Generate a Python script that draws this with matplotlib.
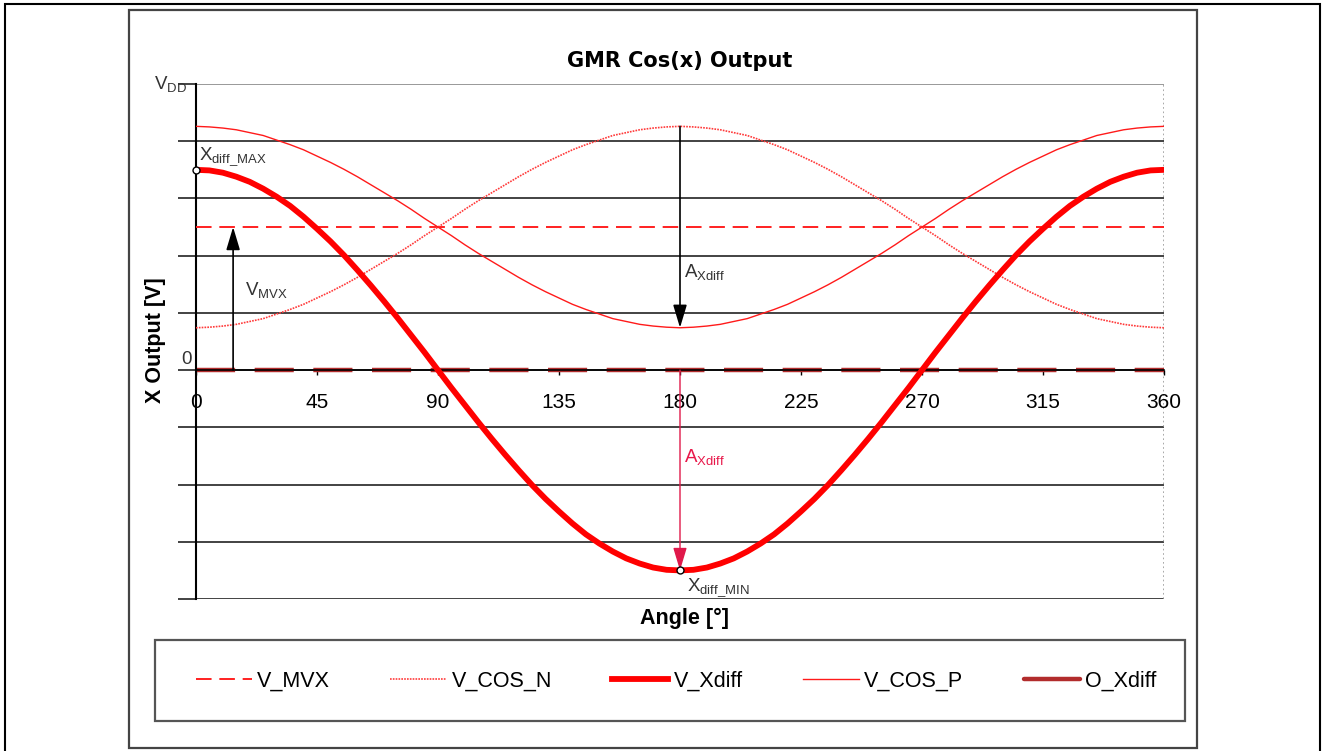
import matplotlib
matplotlib.use("Agg")
import matplotlib.pyplot as plt
from matplotlib.patches import Rectangle
from matplotlib.lines import Line2D

plt.rcParams['font.family'] = ['Liberation Sans', 'DejaVu Sans']
plt.rcParams['mathtext.default'] = 'regular'

W, H = 1323, 751

# angle in degrees (5 degree steps), values in grid units (0 = ground, 5 = VDD)
angle = list(range(0, 361, 5))
v_xdiff = [3.50, 3.49, 3.45, 3.38, 3.29, 3.17, 3.03, 2.87, 2.68, 2.47, 2.25, 2.01, 1.75,
           1.48, 1.20, 0.91, 0.61, 0.31, 0.00, -0.31, -0.61, -0.91, -1.20, -1.48, -1.75,
           -2.01, -2.25, -2.47, -2.68, -2.87, -3.03, -3.17, -3.29, -3.38, -3.45, -3.49,
           -3.50, -3.49, -3.45, -3.38, -3.29, -3.17, -3.03, -2.87, -2.68, -2.47, -2.25,
           -2.01, -1.75, -1.48, -1.20, -0.91, -0.61, -0.31, 0.00, 0.31, 0.61, 0.91, 1.20,
           1.48, 1.75, 2.01, 2.25, 2.47, 2.68, 2.87, 3.03, 3.17, 3.29, 3.38, 3.45, 3.49, 3.50]
v_cos_p = [4.26, 4.25, 4.23, 4.20, 4.15, 4.10, 4.02, 3.94, 3.85, 3.74, 3.63, 3.51, 3.38,
           3.24, 3.10, 2.96, 2.81, 2.65, 2.50, 2.35, 2.19, 2.04, 1.90, 1.76, 1.62, 1.49,
           1.37, 1.26, 1.15, 1.06, 0.98, 0.90, 0.85, 0.80, 0.77, 0.75, 0.74, 0.75, 0.77,
           0.80, 0.85, 0.90, 0.98, 1.06, 1.15, 1.26, 1.37, 1.49, 1.62, 1.76, 1.90, 2.04,
           2.19, 2.35, 2.50, 2.65, 2.81, 2.96, 3.10, 3.24, 3.38, 3.51, 3.63, 3.74, 3.85,
           3.94, 4.02, 4.10, 4.15, 4.20, 4.23, 4.25, 4.26]
v_cos_n = [0.74, 0.75, 0.77, 0.80, 0.85, 0.90, 0.98, 1.06, 1.15, 1.26, 1.37, 1.49, 1.62,
           1.76, 1.90, 2.04, 2.19, 2.35, 2.50, 2.65, 2.81, 2.96, 3.10, 3.24, 3.38, 3.51,
           3.63, 3.74, 3.85, 3.94, 4.02, 4.10, 4.15, 4.20, 4.23, 4.25, 4.26, 4.25, 4.23,
           4.20, 4.15, 4.10, 4.02, 3.94, 3.85, 3.74, 3.63, 3.51, 3.38, 3.24, 3.10, 2.96,
           2.81, 2.65, 2.50, 2.35, 2.19, 2.04, 1.90, 1.76, 1.62, 1.49, 1.37, 1.26, 1.15,
           1.06, 0.98, 0.90, 0.85, 0.80, 0.77, 0.75, 0.74]
v_mvx = 2.5
o_xdiff = 0.0
vdd = 5
y_min = -4
x_ticks = [0, 45, 90, 135, 180, 225, 270, 315, 360]
mvx_arrow_x = 13.8

fig = plt.figure(figsize=(W / 100, H / 100), dpi=100)
ax = fig.add_axes([196 / W, 1 - 599 / H, (1164 - 196) / W, (599 - 84) / H])
ax.set_xlim(0, 360)
ax.set_ylim(y_min, vdd)

# horizontal grid
for g in range(y_min, vdd + 1):
    ax.axhline(g, color='#888888' if g == vdd else '#222222', lw=1.2, zorder=1)
ax.axvline(360, color='#999999', lw=1.2, ls=':', zorder=1)

ax.spines['top'].set_visible(False)
ax.spines['right'].set_visible(False)
ax.spines['left'].set_linewidth(1.5)
ax.spines['bottom'].set_position(('data', 0))
ax.spines['bottom'].set_linewidth(1.2)

ax.set_yticks(range(y_min, vdd + 1))
ax.set_yticklabels([])
ax.tick_params(axis='y', direction='out', length=13, width=1.2, color='#222222')
ax.set_xticks(x_ticks)
ax.set_xticklabels([str(t) for t in x_ticks], fontsize=15)
ax.tick_params(axis='x', direction='out', length=3.5, width=1, pad=13)

# series
l_oxd, = ax.plot(angle, [o_xdiff] * len(angle), color='#b22c2c', lw=3.2,
                 dashes=(8.8, 4.4), zorder=2, label='O_Xdiff')
l_mvx = ax.axhline(v_mvx, color='#ff2020', lw=1.4, dashes=(8, 4), zorder=3, label='V_MVX')
l_cn, = ax.plot(angle, v_cos_n, color='#ff3a3a', lw=1.2, ls=(0, (1, 0.7)), zorder=3, label='V_COS_N')
l_cp, = ax.plot(angle, v_cos_p, color='#ff1a1a', lw=1.0, zorder=3, label='V_COS_P')
l_xd, = ax.plot(angle, v_xdiff, color='#ff0000', lw=4.2, zorder=4, label='V_Xdiff',
                solid_joinstyle='round')

# arrows
ax.annotate('', xy=(mvx_arrow_x, v_mvx), xytext=(mvx_arrow_x, 0),
            arrowprops=dict(arrowstyle='-|>,head_length=1.0,head_width=0.3', color='black',
                            lw=1.2, shrinkA=0, shrinkB=0, mutation_scale=14), zorder=5)
ax.annotate('', xy=(180, min(v_cos_p)), xytext=(180, max(v_cos_n)),
            arrowprops=dict(arrowstyle='-|>,head_length=1.0,head_width=0.3', color='black',
                            lw=1.2, shrinkA=0, shrinkB=0, mutation_scale=14), zorder=5)
ax.annotate('', xy=(180, min(v_xdiff)), xytext=(180, 0),
            arrowprops=dict(arrowstyle='-|>,head_length=1.0,head_width=0.3', color='#e0184a',
                            lw=1.0, shrinkA=0, shrinkB=0, mutation_scale=14), zorder=5)

ax.plot([0, 180], [max(v_xdiff), min(v_xdiff)], ls='none', marker='o', ms=5,
        mfc='white', mec='black', mew=1, zorder=6, clip_on=False)

lab = dict(fontsize=13.5, color='#333333')
ax.text(18.2, 1.4, 'V$_{MVX}$', va='center', ha='left', **lab)
ax.text(181.5, 1.71, 'A$_{Xdiff}$', va='center', ha='left', **lab)
ax.text(181.5, -1.52, 'A$_{Xdiff}$', va='center', ha='left', fontsize=13.5, color='#e8184a')
ax.text(1.0, 3.72, r'X$_{diff\_MAX}$', va='center', ha='left', **lab)
ax.text(182.5, -3.8, r'X$_{diff\_MIN}$', va='center', ha='left', **lab)
ax.text(-3.2, vdd, 'V$_{DD}$', va='center', ha='right', **lab)
ax.text(-1.5, 0.18, '0', va='center', ha='right', **lab)

ax.set_title('GMR Cos(x) Output', fontsize=15, fontweight='bold', family='DejaVu Sans', pad=12)
fig.text(155 / W, 1 - 340 / H, 'X Output [V]', rotation=90, ha='center', va='center',
         fontsize=15.5, fontweight='bold')
fig.text(685 / W, 1 - 618 / H, 'Angle [°]', ha='center', va='center',
         fontsize=15.5, fontweight='bold')

# legend
handles = [l_mvx, l_cn, l_xd, l_cp,
           Line2D([], [], color='#b22c2c', lw=3.2, solid_capstyle='round')]
fig.legend(handles, ['V_MVX', 'V_COS_N', 'V_Xdiff', 'V_COS_P', 'O_Xdiff'],
           loc='center', bbox_to_anchor=(676 / W, 1 - 681 / H), ncol=5, frameon=False,
           fontsize=15.5, handlelength=2.6, handletextpad=0.25, columnspacing=2.8)

# frames
fig.add_artist(Rectangle((5 / W, -0.1), 1315 / W, 1.1 - 4 / H, transform=fig.transFigure,
                         fill=False, ec='black', lw=1.5))
fig.add_artist(Rectangle((129 / W, 1 - 748 / H), 1068 / W, 738 / H, transform=fig.transFigure,
                         fill=False, ec='#444444', lw=1.6))
fig.add_artist(Rectangle((155 / W, 1 - 721 / H), 1030 / W, 81 / H, transform=fig.transFigure,
                         fill=False, ec='#555555', lw=1.6))

fig.savefig('out.png', dpi=100)
